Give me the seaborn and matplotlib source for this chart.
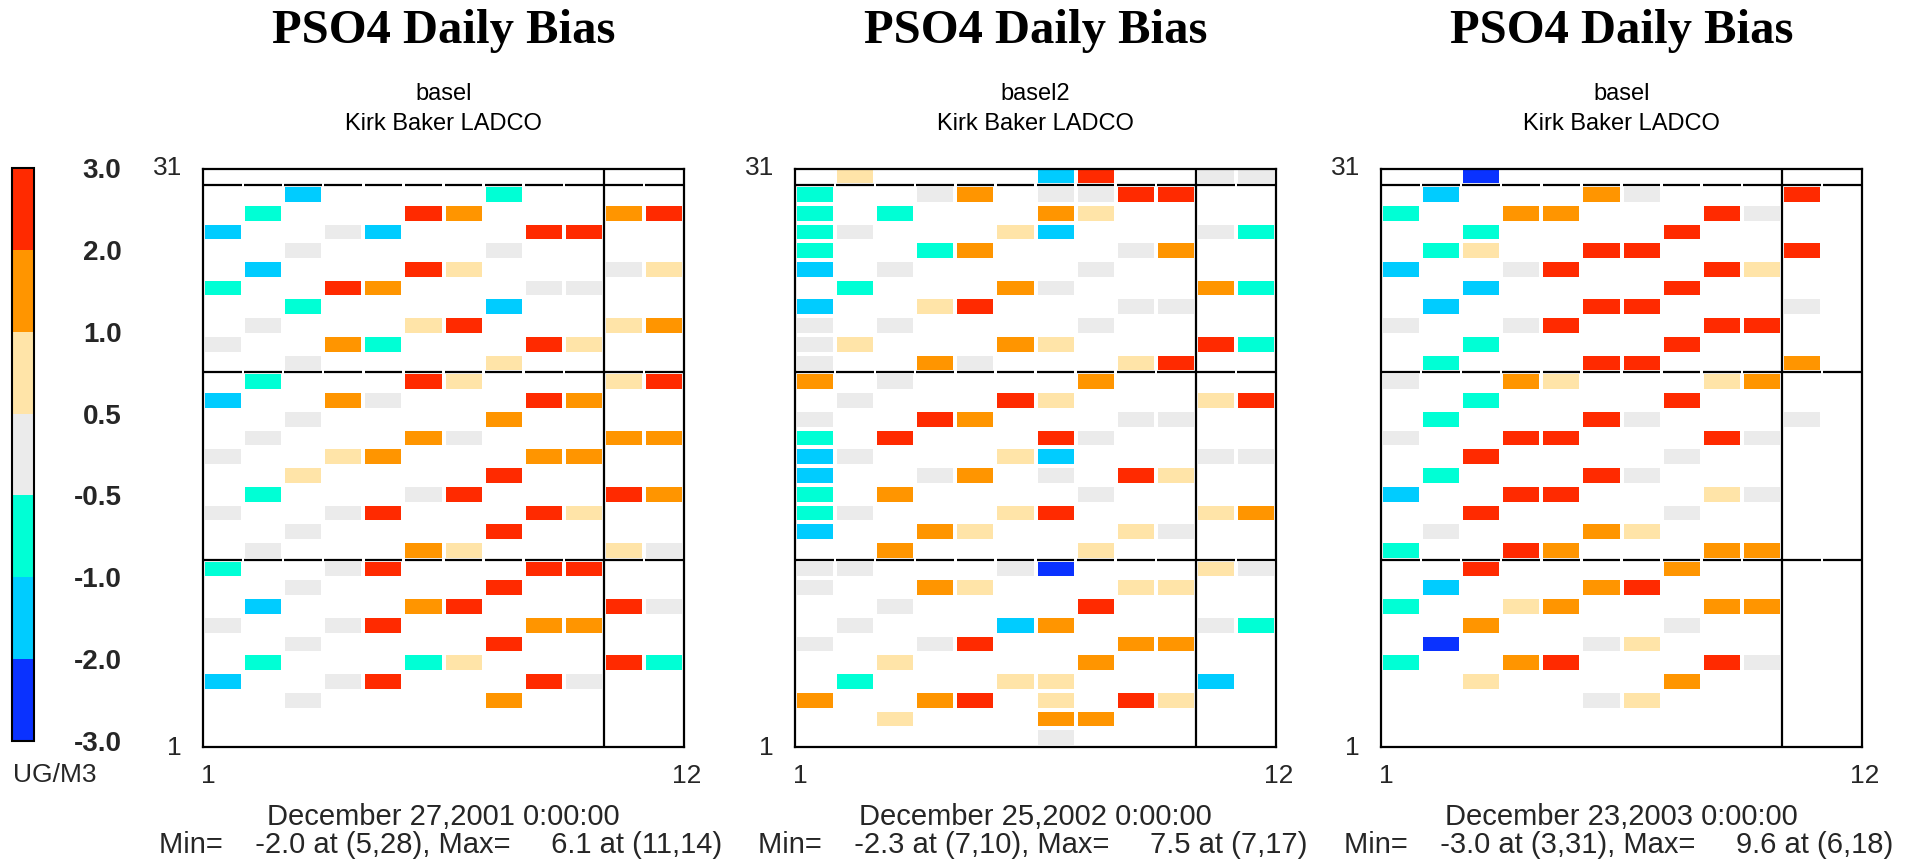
import numpy as np
import pandas as pd
import matplotlib
matplotlib.use("Agg")
import matplotlib.pyplot as plt
from matplotlib.colors import ListedColormap, BoundaryNorm
import matplotlib.cm as cm
import seaborn as sns

sns.set_theme(style="white")
plt.rcParams['font.family'] = ['Liberation Sans', 'DejaVu Sans']

# ---------------- data ----------------
bounds = [-3.0, -2.0, -1.0, -0.5, 0.5, 1.0, 2.0, 3.0]
bound_labels = ["-3.0", "-2.0", "-1.0", "-0.5", "0.5", "1.0", "2.0", "3.0"]
bin_colors = ["#0A32FF", "#00CCFF", "#00FFD5", "#EBEBEB", "#FFE4A8", "#FF9500", "#FF2A00"]
# bias bin of each cell code (B=-2..-3, S=-1..-2, T=-0.5..-1, G=-0.5..0.5, Y=0.5..1, O=1..2, R=>2)
code_value = {"B": -2.5, "S": -1.5, "T": -0.75, "G": 0.0, "Y": 0.75, "O": 1.5, "R": 2.5}

col_labels = list(range(1, 13))
row_labels = list(range(31, 0, -1))

# rows listed from 31 (top) down to 1 (bottom); columns 1..12
grid_2001 = [
    "............", "..S....T....", ".T...RO...OR", "S..GS...RR..", "..G....G....",
    ".S...RY...GY", "T..RO...GG..", "..T....S....", ".G...YR...YO", "G..OT...RY..",
    "..G....Y....", ".T...RY...YR", "S..OG...RO..", "..G....O....", ".G...OG...OO",
    "G..YO...OO..", "..Y....R....", ".T...GR...RO", "G..GR...RY..", "..G....R....",
    ".G...OY...YG", "T..GR...RR..", "..G....R....", ".S...OR...RG", "G..GR...OO..",
    "..G....R....", ".T...TY...RT", "S..GR...RG..", "..G....O....", "............",
    "............",
]
grid_2002 = [
    ".Y....SR..GG", "T..GO.GGRR..", "T.T...OY....", "TG...YS...GT", "T..TO...GO..",
    "S.G....G....", ".T...OG...OT", "S..YR...GG..", "G.G....G....", "GY...OY...RT",
    "G..OG...YR..", "O.G....O....", ".G...RY...YR", "G..RO...GG..", "T.R...RG....",
    "SG...YS...GG", "S..GO.G.RY..", "T.O....G....", "TG...YR...YO", "S..OY...YG..",
    "..O....Y....", "GG...GB...YG", "G..OY...YY..", "..G....R....", ".G...SO...GT",
    "G..GR...OO..", "..Y....O....", ".T...YY...S.", "O..OR.Y.RY..", "..Y...OO....",
    "......G.....",
]
grid_2003 = [
    "..B.........", ".S...OG...R.", "T..OO...RG..", "..T....R....", ".TY..RR...R.",
    "S..GR...RY..", "..S....R....", ".S...RR...G.", "G..GR...RR..", "..T....R....",
    ".T...RR...O.", "G..OY...YO..", "..T....R....", ".T...RG...G.", "G..RR...RG..",
    "..R....G....", ".T...RG.....", "S..RR...YG..", "..R....G....", ".G...OY.....",
    "T..RO...OO..", "..R....O....", ".S...OR.....", "T..YO...OO..", "..O....G....",
    ".B...GY.....", "T..OR...RG..", "..Y....O....", ".....GY.....", "............",
    "............",
]

panel_title = "PSO4 Daily Bias"
run_names = ["basel", "basel2", "basel"]
author = "Kirk Baker LADCO"
dates = ["December 27,2001 0:00:00", "December 25,2002 0:00:00", "December 23,2003 0:00:00"]
min_vals = [-2.0, -2.3, -3.0]
min_locs = [(5, 28), (7, 10), (3, 31)]
max_vals = [6.1, 7.5, 9.6]
max_locs = [(11, 14), (7, 17), (6, 18)]
grids = [grid_2001, grid_2002, grid_2003]
units = "UG/M3"

# ---------------- figure ----------------
W, H = 1921, 866
fig = plt.figure(figsize=(W / 100, H / 100), dpi=100)
fig.patch.set_facecolor("white")

cmap = ListedColormap(bin_colors)
cmap.set_over(bin_colors[-1])
cmap.set_under(bin_colors[0])
norm = BoundaryNorm(bounds, cmap.N)

def fx(px):
    return px / W

def fy(py):
    return 1 - py / H

panel_left = [203, 795, 1381]
pw = 481
ptop, pbot = 169, 747

for i in range(3):
    df = pd.DataFrame([[code_value.get(ch, np.nan) for ch in row] for row in grids[i]],
                      index=row_labels, columns=col_labels)
    ax = fig.add_axes([fx(panel_left[i]), fy(pbot), pw / W, (pbot - ptop) / H])
    sns.heatmap(df, ax=ax, cmap=cmap, norm=norm, cbar=False,
                linewidths=1.5, linecolor="white",
                xticklabels=False, yticklabels=False)
    ax.set_xlim(0, 12)
    ax.set_ylim(31, 0.14)
    ax.set_xlabel("")
    ax.set_ylabel("")
    for s in ax.spines.values():
        s.set_visible(True)
        s.set_color("black")
        s.set_linewidth(1.6)
    # separators, broken at the column boundaries
    x0 = np.arange(12) + 0.03
    x1 = np.arange(1, 13) - 0.03
    for yy in (1, 11, 21):
        ax.hlines(np.full(12, yy), x0, x1, colors="black", linewidth=1.6, zorder=5)
    ax.axvline(10, color="black", linewidth=1.6, zorder=5)

    cx = panel_left[i] + pw / 2
    fig.text(fx(cx), fy(31), panel_title, ha="center", va="center",
             family="Liberation Serif", fontweight="bold", fontsize=35, color="black")
    fig.text(fx(cx), fy(94), run_names[i], ha="center", va="center", fontsize=17, color="black")
    fig.text(fx(cx), fy(124), author, ha="center", va="center", fontsize=17, color="black")
    # axis end labels
    fig.text(fx(panel_left[i] - 21), fy(168), "31", ha="right", va="center", fontsize=19)
    fig.text(fx(panel_left[i] - 21), fy(748), "1", ha="right", va="center", fontsize=19)
    fig.text(fx(panel_left[i] + 5), fy(776), "1", ha="center", va="center", fontsize=19)
    fig.text(fx(panel_left[i] + pw + 3), fy(776), "12", ha="center", va="center", fontsize=19)
    fig.text(fx(cx), fy(817), dates[i], ha="center", va="center", fontsize=21)
    mtxt = "Min=%8.1f at (%d,%d), Max=%8.1f at (%d,%d)" % (
        min_vals[i], min_locs[i][0], min_locs[i][1], max_vals[i], max_locs[i][0], max_locs[i][1])
    fig.text(fx(cx - 3), fy(845), mtxt, ha="center", va="center", fontsize=21)

# ---------------- colour bar ----------------
cax = fig.add_axes([fx(12), fy(741), 22 / W, (741 - 168) / H])
sm = cm.ScalarMappable(norm=norm, cmap=cmap)
cb = fig.colorbar(sm, cax=cax, boundaries=bounds, ticks=bounds, spacing="uniform")
cb.outline.set_edgecolor("black")
cb.outline.set_linewidth(1.5)
cax.tick_params(length=0, pad=63)
cax.set_yticklabels(bound_labels)
for t in cax.get_yticklabels():
    t.set_horizontalalignment("right")
    t.set_fontweight("bold")
    t.set_fontsize(20)
fig.text(fx(13), fy(775), units, ha="left", va="center", fontsize=19)

fig.savefig("out.png", dpi=100, facecolor="white")
